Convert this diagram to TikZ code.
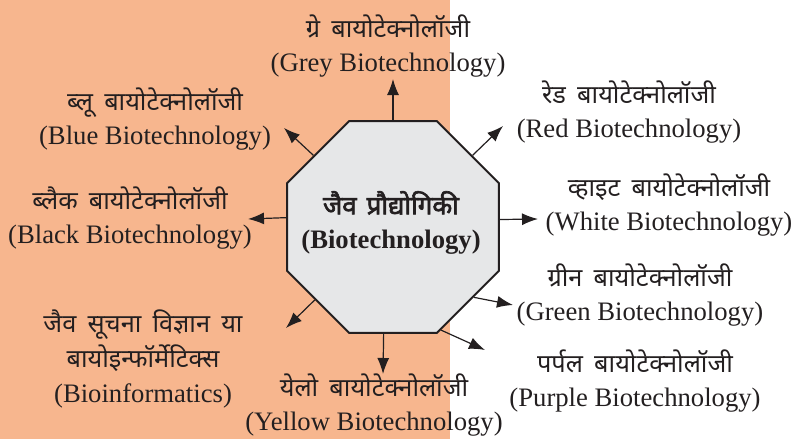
\documentclass[tikz,border=0pt]{standalone}
\usepackage{fontspec}
\setmainfont{Liberation Serif}
\newfontfamily\hindi[Script=Devanagari,Scale=0.95,WordSpace=1.7]{Noto Sans}
\newfontfamily\hindibf[Script=Devanagari,Scale=0.97,FakeBold=2.5,WordSpace=1.5]{Noto Sans}
\usetikzlibrary{shapes.geometric,arrows.meta,positioning}
\definecolor{salmon}{RGB}{247,182,142}
\definecolor{octgrey}{RGB}{230,231,232}
\definecolor{ink}{RGB}{35,31,32}
\tikzset{
  lbl/.style={align=center, inner sep=0pt, anchor=south, text=ink,
    font=\fontsize{20}{26}\selectfont},
  arr/.style={draw=ink, line width=0.9pt, -{Latex[length=12pt,width=9pt]}},
}
\begin{document}
\begin{tikzpicture}[x=0.75pt,y=-0.75pt]

  \useasboundingbox (0,0) rectangle (794,439);
  \fill[salmon] (0,0) rectangle (450,439);

  % centre octagon
  \node[regular polygon, regular polygon sides=8, minimum size=172pt,
        draw=ink, line width=1.5pt, fill=octgrey, inner sep=0pt]
        (bio) at (393,227) {};
  \node[align=center, inner sep=0pt, text=ink,
        font=\fontsize{20}{26}\selectfont\bfseries]
        (biotext) at (391,223) {{\hindibf जैव प्रौद्योगिकी}\\(Biotechnology)};

  % labels
  \node[lbl] (grey)   at (388,78)  {{\hindi ग्रे बायोटेक्नोलॉजी}\\(Grey Biotechnology)};
  \node[lbl] (blue)   at (155,151) {{\hindi ब्लू बायोटेक्नोलॉजी}\\(Blue Biotechnology)};
  \node[lbl] (red)    at (629,144) {{\hindi रेड बायोटेक्नोलॉजी}\\(Red Biotechnology)};
  \node[lbl] (black)  at (130,250) {{\hindi ब्लैक बायोटेक्नोलॉजी}\\(Black Biotechnology)};
  \node[lbl] (white)  at (669,237) {{\hindi व्हाइट बायोटेक्नोलॉजी}\\(White Biotechnology)};
  \node[lbl] (green)  at (640,327) {{\hindi ग्रीन बायोटेक्नोलॉजी}\\(Green Biotechnology)};
  \node[lbl] (purple) at (635,413) {{\hindi पर्पल बायोटेक्नोलॉजी}\\(Purple Biotechnology)};
  \node[lbl] (binf)   at (143,408) {{\hindi जैव सूचना विज्ञान या}\\{\hindi बायोइन्फॉर्मेटिक्स}\\(Bioinformatics)};
  \node[lbl] (yellow) at (374,437) {{\hindi येलो बायोटेक्नोलॉजी}\\(Yellow Biotechnology)};

  % arrow tips
  \coordinate (tgrey)   at (393,79);
  \coordinate (tblue)   at (284,128);
  \coordinate (tred)    at (503,126);
  \coordinate (tblack)  at (248,219);
  \coordinate (twhite)  at (538,219);
  \coordinate (tgreen)  at (513,305);
  \coordinate (tpurple) at (485,350);
  \coordinate (tyellow) at (383,374);
  \coordinate (tbinf)   at (286,328);

  \draw[arr] (bio.north) -- (tgrey);
  \draw[arr] (bio.138) -- (tblue);
  \draw[arr] (bio.42) -- (tred);
  \draw[arr] (bio.175) -- (tblack);
  \draw[arr] (bio.4) -- (twhite);
  \draw[arr] (bio.-41) -- (tgreen);
  \draw[arr] (bio.-65) -- (tpurple);
  \draw[arr] (bio.-95) -- (tyellow);
  \draw[arr] (bio.-137) -- (tbinf);

\end{tikzpicture}
\end{document}
